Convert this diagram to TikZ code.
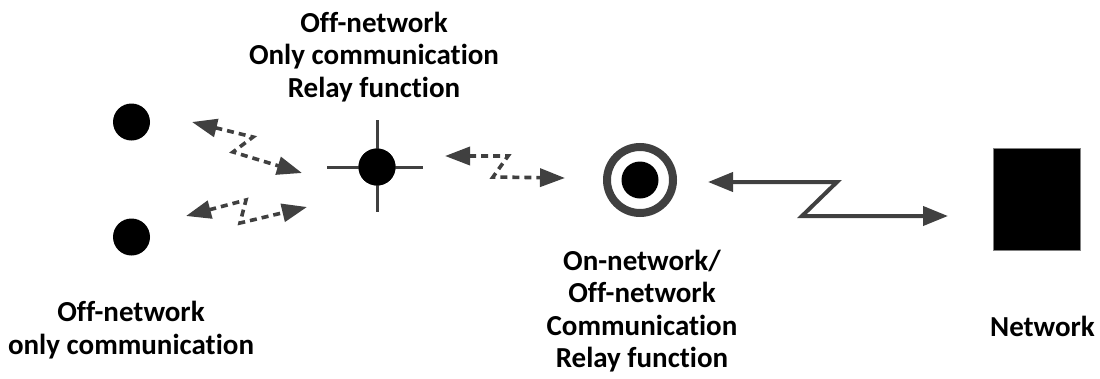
\documentclass[tikz,border=0pt]{standalone}
\usepackage{fontspec}
\setmainfont{Carlito}[Ligatures=NoCommon]
\usetikzlibrary{arrows.meta}

\definecolor{linegray}{HTML}{404040}

\tikzset{
	dot/.style={circle, fill=black, inner sep=0pt, minimum size=37pt},
	label text/.style={align=center, inner sep=0pt, anchor=base,
		font=\fontsize{29}{32.5}\selectfont\bfseries},
	radio link/.style={draw=linegray, line width=3.6pt, dash pattern=on 7pt off 5pt,
		{Triangle[length=25pt, width=18pt]}-{Triangle[length=25pt, width=18pt]}},
	wire link/.style={draw=linegray, line width=4pt,
		{Triangle[length=25pt, width=19pt]}-{Triangle[length=25pt, width=19pt]}}
}

\begin{document}
\begin{tikzpicture}[x=1pt, y=-1pt]
	% Fix the frame of the picture
	\useasboundingbox (0,0) rectangle (1100,378);
	
	% Draw the two off-network terminals
	\node[dot] (termA) at (131.5,122) {};
	\node[dot] (termB) at (131.5,237) {};
	
	% Draw the relay terminal with its cross
	\node[dot] (relay) at (377,167) {};
	\draw[linegray, line width=3pt] (327,167) -- (423,167);
	\draw[linegray, line width=3pt] (377,120) -- (377,212);
	\node[dot] at (relay) {};
	
	% Draw the on-network terminal with its ring
	\node[circle, draw=linegray, line width=8pt, inner sep=0pt, minimum size=66pt] (ring) at (640,180) {};
	\node[dot] (onnet) at (ring) {};
	
	% Draw the network box
	\node[draw=gray, fill=black, inner sep=0pt, minimum width=87pt, minimum height=102pt] (net) at (1036.5,199) {};
	
	% Points of the links
	\coordinate (l1a) at (192,122); \coordinate (l1b) at (253,137);
	\coordinate (l1c) at (233,152); \coordinate (l1d) at (302,173);
	\coordinate (l2a) at (186,216); \coordinate (l2b) at (246,200);
	\coordinate (l2c) at (240,223); \coordinate (l2d) at (307,207);
	\coordinate (l3a) at (445,156); \coordinate (l3b) at (508,156);
	\coordinate (l3c) at (493,177); \coordinate (l3d) at (565,178);
	\coordinate (l4a) at (708,182); \coordinate (l4b) at (837,182);
	\coordinate (l4c) at (802,216); \coordinate (l4d) at (948,216);
	
	% Draw the links
	\draw[radio link] (l1a) -- (l1b) -- (l1c) -- (l1d);
	\draw[radio link] (l2a) -- (l2b) -- (l2c) -- (l2d);
	\draw[radio link] (l3a) -- (l3b) -- (l3c) -- (l3d);
	\draw[wire link] (l4a) -- (l4b) -- (l4c) -- (l4d);
	
	% Label the terminals (anchored at the last line)
	\node[label text] (relaylabel) at (374,97) {Off-network\\Only communication\\Relay function};
	\node[label text] (termlabel) at (131,354) {Off-network\\only communication};
	\node[label text] (onnetlabel) at (642,367.5) {On-network/\\Off-network\\Communication\\Relay function};
	\node[label text] (netlabel) at (1042.5,336.5) {Network};
\end{tikzpicture}
\end{document}
